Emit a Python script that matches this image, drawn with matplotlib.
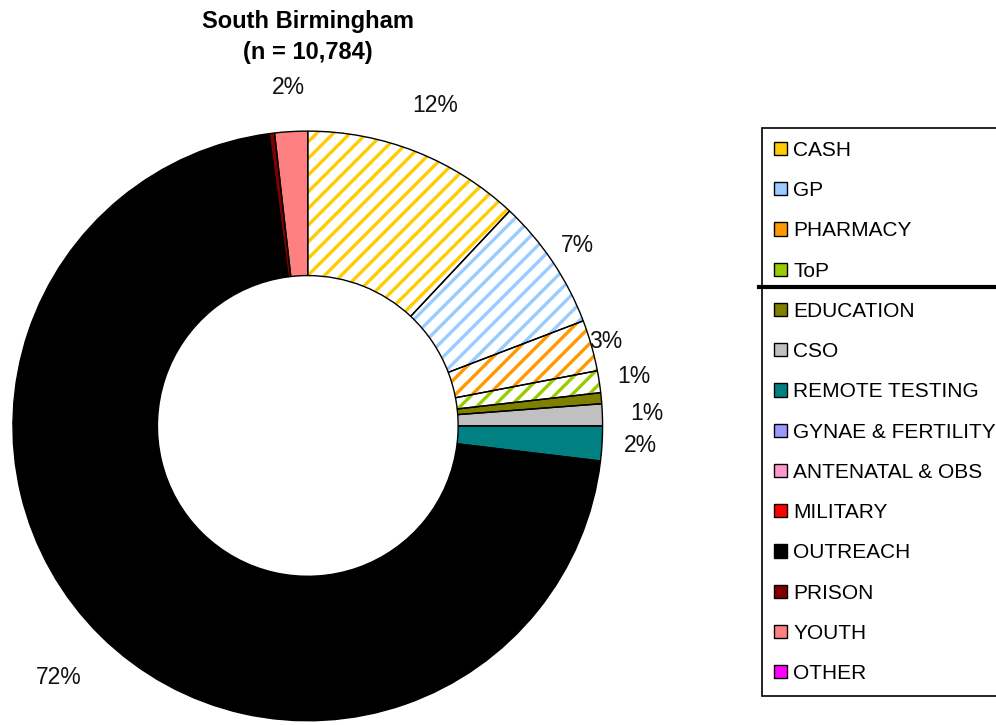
import numpy as np
import matplotlib.pyplot as plt
from matplotlib.patches import Patch
from matplotlib.lines import Line2D

plt.rcParams['font.family'] = ['Liberation Sans', 'DejaVu Sans']
plt.rcParams['hatch.linewidth'] = 2.4

categories = ['CASH', 'GP', 'PHARMACY', 'ToP', 'EDUCATION', 'CSO', 'REMOTE TESTING',
              'GYNAE & FERTILITY', 'ANTENATAL & OBS', 'MILITARY', 'OUTREACH',
              'PRISON', 'YOUTH', 'OTHER']
shares = [12.0, 7.2, 2.8, 1.2, 0.6, 1.2, 1.9, 0.0, 0.0, 0.0, 71.0, 0.3, 1.8, 0.0]
pct_labels = ['12%', '7%', '3%', '1%', '', '1%', '2%', '', '', '', '72%', '', '2%', '']
colors = ['#FFCC00', '#99CCFF', '#FF9900', '#99CC00', '#808000', '#C0C0C0', '#008080',
          '#9999FF', '#FF99CC', '#FF0000', '#000000', '#800000', '#FF8080', '#FF00FF']
hatched = [True, True, True, True] + [False] * 10

fig = plt.figure(figsize=(9.96, 7.25), dpi=100)
ax = fig.add_axes([0.013, 0.0055, 0.592, 0.814])

# hatched layer (stripe colour), then outline layer
face = ['white' if h else c for h, c in zip(hatched, colors)]
wedges, _ = ax.pie(shares, colors=face, startangle=90, counterclock=False,
                   wedgeprops=dict(width=0.49, linewidth=0))
for w, h, c in zip(wedges, hatched, colors):
    if h:
        w.set_hatch('//')
        w.set_edgecolor(c)
wedges2, _ = ax.pie(shares, colors=['none'] * len(shares), startangle=90, counterclock=False,
                    wedgeprops=dict(width=0.49, linewidth=1.0, edgecolor='black'))
for w, s in zip(wedges2, shares):
    if s == 0:
        w.set_visible(False)

# percentage labels outside
label_dist = [1.17, 1.1, 1.05, 1.12, 1.1, 1.15, 1.13, 1.1, 1.1, 1.1, 1.2, 1.1, 1.15, 1.1]
for w, lab, d in zip(wedges, pct_labels, label_dist):
    if not lab:
        continue
    ang = np.deg2rad((w.theta1 + w.theta2) / 2)
    ax.text(d * np.cos(ang), d * np.sin(ang), lab, ha='center', va='center',
            fontsize=16.5, color='#111111', clip_on=False)

ax.set_xlim(-1, 1)
ax.set_ylim(-1, 1)
ax.set_aspect('equal')

fig.text(0.309, 0.949, 'South Birmingham\n(n = 10,784)', ha='center', va='center',
         fontsize=17, fontweight='bold', linespacing=1.4)

handles = [Patch(facecolor=c, edgecolor='black', linewidth=1.0) for c in colors]
leg = fig.legend(handles, categories, loc='upper left', bbox_to_anchor=(0.765, 0.823),
                 frameon=True, fancybox=False, edgecolor='black', framealpha=1,
                 fontsize=15, handlelength=0.6, handleheight=0.6, handletextpad=0.3,
                 labelspacing=1.02, borderpad=0.6, borderaxespad=0)
leg.get_frame().set_linewidth(1.2)

fig.add_artist(Line2D([0.762, 1.0], [0.604, 0.604], color='black', linewidth=3,
                      transform=fig.transFigure, zorder=10))

fig.savefig('out.png', dpi=100)
